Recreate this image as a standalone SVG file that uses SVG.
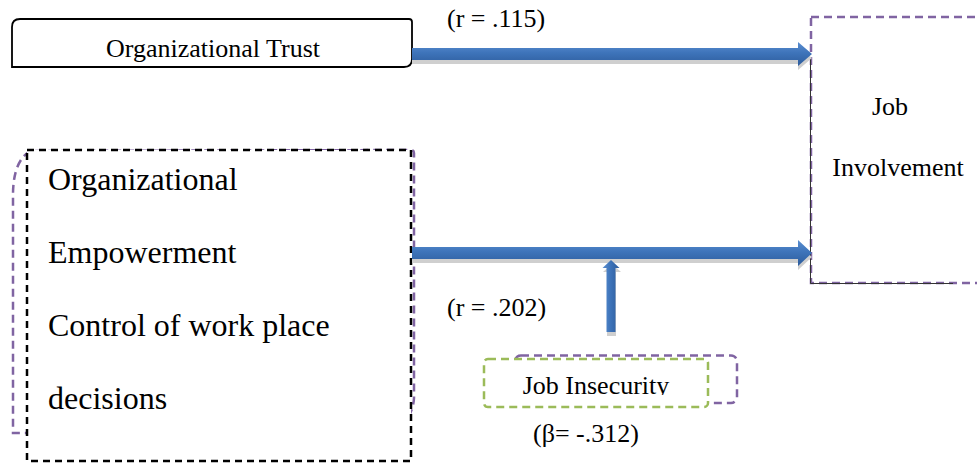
<svg xmlns="http://www.w3.org/2000/svg" width="977" height="463" viewBox="0 0 977 463">
  <defs>
    <linearGradient id="shaftH" x1="0" y1="0" x2="0" y2="1">
      <stop offset="0" stop-color="#5b8fd1"/>
      <stop offset="0.45" stop-color="#3e74ba"/>
      <stop offset="1" stop-color="#2d5c9c"/>
    </linearGradient>
    <linearGradient id="shaftV" x1="0" y1="0" x2="1" y2="0">
      <stop offset="0" stop-color="#5b8fd1"/>
      <stop offset="0.45" stop-color="#3e74ba"/>
      <stop offset="1" stop-color="#2d5c9c"/>
    </linearGradient>
    <clipPath id="insecClip">
      <rect x="484" y="358" width="224" height="37"/>
    </clipPath>
  </defs>
  <style>
    text { font-family: "Liberation Serif", "Times New Roman", serif; fill: #000; }
    .small { font-size: 26px; }
    .big { font-size: 32px; }
    .purple { fill: none; stroke: #8064a2; stroke-width: 2.5; stroke-dasharray: 8 5; }
    .green { fill: #fff; stroke: #9bbb59; stroke-width: 2.5; stroke-dasharray: 8 5; }
    .blackdash { fill: #fff; stroke: #000; stroke-width: 2.5; stroke-dasharray: 7 5; }
    .shadow { fill: #cfcfcf; }
  </style>

  <rect width="977" height="463" fill="#fff"/>

  <!-- Organizational Trust -->
  <g id="trust">
    <path d="M12,67 V27 Q12,19 20,19 H409 Q412,19 412,22 V59 Q412,67 404,67 Z" fill="#fff" stroke="#000" stroke-width="1.8"/>
    <text class="small" x="213" y="57" text-anchor="middle">Organizational Trust</text>
  </g>

  <!-- Job Involvement -->
  <g id="involvement">
    <rect x="811" y="17" width="200" height="266" fill="#fff" class="purple"/>
    <path d="M810.5,57 V283.5 H953" fill="none" stroke="#333" stroke-width="1"/>
    <text class="small" x="890" y="115" text-anchor="middle">Job</text>
    <text class="small" x="898" y="176" text-anchor="middle">Involvement</text>
  </g>

  <!-- Organizational Empowerment / Control of work place decisions -->
  <g id="empowerment">
    <path class="purple" d="M30,151 C19,158 13,172 13,195 V433 H390 Q413,420 414,398 V153 Q414,150 411,150 Z"/>
    <rect class="blackdash" x="27" y="150" width="384" height="311"/>
    <text class="big" x="48" y="190">Organizational</text>
    <text class="big" x="48" y="263">Empowerment</text>
    <text class="big" x="48" y="336">Control of work place</text>
    <text class="big" x="48" y="409">decisions</text>
  </g>

  <!-- Job Insecurity -->
  <g id="insecurity">
    <rect class="purple" x="515" y="355.5" width="222" height="47.5" rx="6"/>
    <rect class="green" x="484" y="359" width="224" height="48" rx="4"/>
    <text class="small" x="596" y="394" text-anchor="middle" clip-path="url(#insecClip)">Job Insecurity</text>
  </g>

  <!-- Connectors -->
  <g id="connectors">
    <path class="shadow" d="M412,52 H798 V46 L812,58 L798,70 V64 H412 Z"/>
    <path fill="url(#shaftH)" d="M412,48 H798 V42 L812,54 L798,66 V60 H412 Z"/>

    <path class="shadow" d="M412,251 H798 V244 L812,257 L798,270 V263 H412 Z"/>
    <path fill="url(#shaftH)" d="M412,247 H798 V240 L812,253 L798,266 V259 H412 Z"/>

    <path class="shadow" d="M607,336 V272 H603 L612,264 L621,272 H616 V336 Z"/>
    <path fill="url(#shaftV)" d="M606.5,332 V268 H602.5 L611,260 L619.5,268 H615.5 V332 Z"/>

    <text class="small" x="447" y="27">(r = .115)</text>
    <text class="small" x="447" y="316">(r = .202)</text>
    <text class="small" x="533" y="442">(β= -.312)</text>
  </g>
</svg>
